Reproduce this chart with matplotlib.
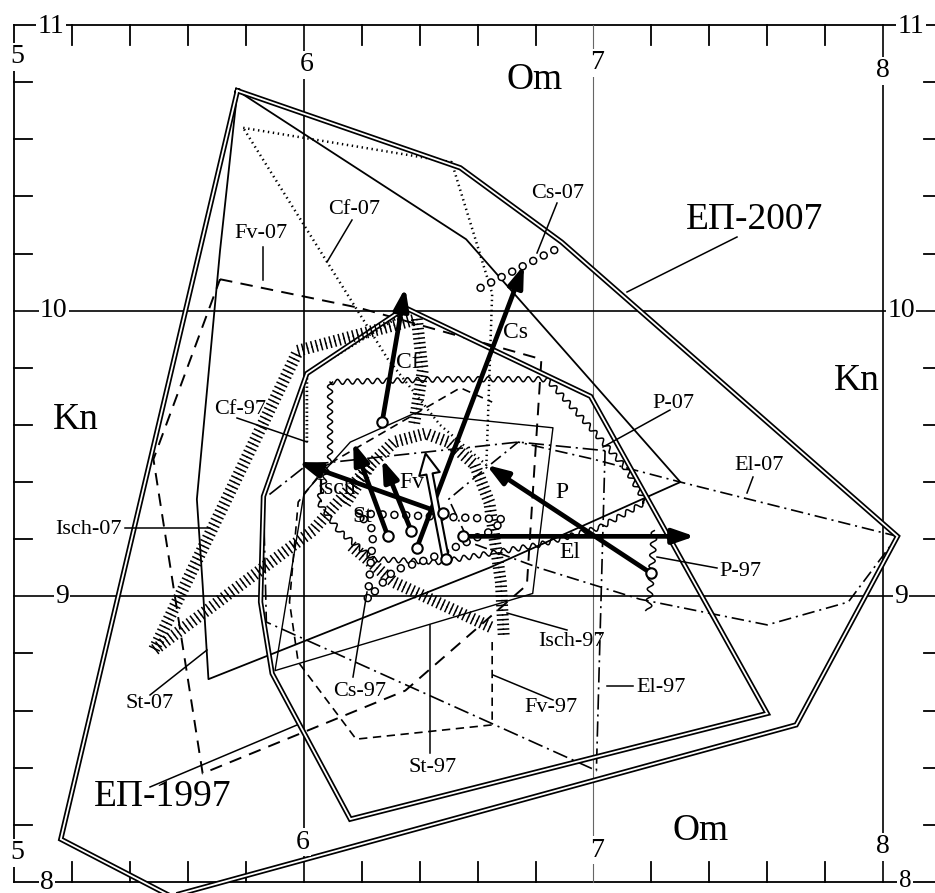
import numpy as np
import matplotlib
matplotlib.use("Agg")
import matplotlib.pyplot as plt
import matplotlib.patheffects as pe
from matplotlib.patches import FancyArrowPatch
from matplotlib.transforms import Affine2D

plt.rcParams['font.family'] = ['Liberation Serif', 'DejaVu Serif']
plt.rcParams['lines.scale_dashes'] = False

# ---------------- data (Om, Kn) ----------------
EP2007_OM = [5.77, 6.54, 6.89, 8.05, 7.70, 5.54, 5.16]
EP2007_KN = [10.77, 10.50, 10.24, 9.21, 8.55, 7.95, 8.15]

EP1997_OM = [6.35, 6.99, 7.60, 6.16, 5.89, 5.85, 5.86, 6.01]
EP1997_KN = [10.01, 9.70, 8.59, 8.22, 8.73, 8.98, 9.35, 9.78]

ST07_OM = [5.77, 6.56, 7.30, 6.64, 5.67, 5.65, 5.63, 5.71]
ST07_KN = [10.77, 10.25, 9.40, 9.10, 8.71, 9.04, 9.34, 10.21]

CF07_OM = [5.79, 6.51, 6.65, 6.63, 6.47, 6.29]
CF07_KN = [10.64, 10.52, 10.06, 9.46, 9.60, 9.83]

FV07_OM = [5.71, 6.19, 6.82, 6.77, 6.35, 5.65, 5.48]
FV07_KN = [10.11, 10.01, 9.83, 9.04, 8.67, 8.38, 9.48]

EL07_OM = [8.05, 7.30, 7.00, 6.74, 6.63, 6.50, 6.57, 6.81, 7.16, 7.60, 7.88]
EL07_KN = [9.21, 9.40, 9.48, 9.54, 9.45, 9.34, 9.19, 9.10, 8.99, 8.90, 8.98]

EL97_OM = [7.04, 7.01, 5.87, 5.86, 6.01, 6.74]
EL97_KN = [9.51, 8.39, 8.91, 9.34, 9.46, 9.54]

ST97_OM = [6.38, 6.86, 6.79, 5.90, 6.00, 6.16]
ST97_KN = [9.64, 9.59, 9.01, 8.74, 9.36, 9.54]

FV97_OM = [6.65, 6.65, 6.18, 5.98, 5.95, 5.98, 6.08, 6.54, 6.65]
FV97_KN = [8.84, 8.55, 8.50, 8.77, 8.98, 9.33, 9.46, 9.73, 9.68]

CF97_OM = [6.01, 6.01, 6.33]
CF97_KN = [9.54, 9.78, 9.98]

ISCH07A_OM = [5.48, 5.98, 6.39, 6.41, 6.38]
ISCH07A_KN = [8.81, 9.86, 9.97, 9.79, 9.60]
ISCH07B_OM = [5.48, 6.03, 6.23]
ISCH07B_KN = [8.81, 9.23, 9.46]

ISCH97A_OM = [6.14, 6.23, 6.31, 6.42, 6.50, 6.59, 6.64, 6.66, 6.68, 6.69]
ISCH97A_KN = [9.32, 9.46, 9.54, 9.57, 9.54, 9.46, 9.33, 9.19, 9.05, 8.86]
ISCH97B_OM = [6.16, 6.31, 6.65]
ISCH97B_KN = [9.18, 9.05, 8.89]

CS07_OM = [6.61, 6.88]
CS07_KN = [10.08, 10.22]
CS97_OM = [6.19, 6.69, 6.65, 6.43, 6.31, 6.22, 6.24]
CS97_KN = [9.29, 9.27, 9.23, 9.13, 9.09, 8.99, 9.23]

P07_OM = [6.09, 6.50, 6.84, 6.99, 7.11, 7.18, 7.02, 6.81, 6.47, 6.24, 6.12, 6.05, 6.09]
P07_KN = [9.75, 9.76, 9.76, 9.59, 9.45, 9.33, 9.24, 9.18, 9.12, 9.13, 9.23, 9.33, 9.48]
P97_OM = [7.21, 7.20, 7.19]
P97_KN = [9.23, 9.08, 8.95]

# shift arrows 1997 -> 2007
ARROW_NAMES = ['Cf', 'Cs', 'Isch', 'St', 'Fv', 'P', 'El']
ARROW_OM0 = [6.27, 6.39, 6.48, 6.29, 6.37, 7.20, 6.55]
ARROW_KN0 = [9.61, 9.17, 9.29, 9.21, 9.23, 9.08, 9.21]
ARROW_OM1 = [6.35, 6.76, 5.98, 6.17, 6.27, 6.63, 7.35]
ARROW_KN1 = [10.08, 10.16, 9.47, 9.54, 9.48, 9.46, 9.21]
HOLLOW_OM = [6.49, 6.42]
HOLLOW_KN = [9.13, 9.50]

X_TICKS = [5, 6, 7, 8]
Y_TICKS = [8, 9, 10, 11]

# ---------------- figure ----------------
W, H = 935, 893
fig = plt.figure(figsize=(W / 100, H / 100), dpi=100)
ax = fig.add_axes([0, 0, 1, 1])
ax.set_xlim(4.950, 8.1796)
ax.set_ylim(7.9615, 11.0875)
ax.axis('off')
PIX = Affine2D().scale(1 / W, -1 / H).translate(0, 1) + fig.transFigure

K = 'black'

# frame and grid
ax.plot([5, 5], [8, 11], color=K, lw=1.3)
for yv in [8, 11]:
    ax.plot([5, 8.18], [yv, yv], color=K, lw=1.3)
for xv in [6, 8]:
    ax.plot([xv, xv], [8, 11], color=K, lw=1.2)
ax.plot([7, 7], [8, 11], color='#666666', lw=0.8)
for yv in [9, 10]:
    ax.plot([5, 8.18], [yv, yv], color=K, lw=1.2)

minor_x = [v for v in np.arange(5.2, 8.0, 0.2) if abs(v - round(v)) > 0.05]
minor_y = [v for v in np.arange(8.2, 11.0, 0.2) if abs(v - round(v)) > 0.05]
for xv in minor_x:
    ax.plot([xv, xv], [11, 10.93], color=K, lw=1.3)
    ax.plot([xv, xv], [8, 8.07], color=K, lw=1.3)
for yv in minor_y:
    ax.plot([5, 5.062], [yv, yv], color=K, lw=1.3)
    ax.plot([8.143, 8.18], [yv, yv], color=K, lw=1.3)

tb = dict(facecolor='white', edgecolor='none', pad=1.0)
tick_fs = 20
# numeric labels
for s, x, y in [('5', 5.009, 10.888), ('6', 6.010, 10.860), ('7', 7.012, 10.867), ('8', 8.0, 10.839),
                ('5', 5.009, 8.102), ('6', 5.997, 8.140), ('7', 7.012, 8.112), ('8', 7.998, 8.123)]:
    ax.text(x, y, s, fontsize=tick_fs, ha='center', va='center', bbox=tb, zorder=10)
for s, x, y in [('11', 5.126, 10.993), ('10', 5.136, 10.0), ('9', 5.164, 9.0), ('8', 5.112, 8.0),
                ('11', 8.097, 10.993), ('10', 8.062, 10.0), ('9', 8.062, 9.0)]:
    ax.text(x, y, s, fontsize=tick_fs, ha='center', va='center', bbox=tb, zorder=10)
ax.text(8.076, 8.005, '8', fontsize=18, ha='center', va='center', bbox=tb, zorder=10)


def plain(om, kn, closed=True, **kw):
    om = list(om); kn = list(kn)
    if closed:
        om.append(om[0]); kn.append(kn[0])
    return ax.plot(om, kn, color=K, **kw)[0]


def double(om, kn):
    om = list(om) + [om[0]]
    kn = list(kn) + [kn[0]]
    ax.plot(om, kn, color=K, lw=3.8, solid_joinstyle='miter', zorder=3)
    ax.plot(om, kn, color='white', lw=1.3, solid_joinstyle='miter', zorder=3.1)


def hatched(om, kn):
    fx = [pe.TickedStroke(angle=90, spacing=3.4, length=1.1, linewidth=1.1),
          pe.TickedStroke(angle=-90, spacing=3.4, length=1.1, linewidth=1.1)]
    ax.plot(om, kn, color=K, lw=1, path_effects=fx, zorder=4)


def rings(om, kn, closed=False):
    om = list(om); kn = list(kn)
    if closed:
        om.append(om[0]); kn.append(kn[0])
    ax.plot(om, kn, color=K, lw=6.2, dashes=(0.01, 8.5), dash_capstyle='round', zorder=4)
    ax.plot(om, kn, color='white', lw=4.0, dashes=(0.01, 8.5), dash_capstyle='round', zorder=4.1)


def wavy(om, kn, closed=True, amp=2.6, wl=10):
    ln = plain(om, kn, closed=closed, lw=1.1, zorder=3)
    ln.set_sketch_params(scale=amp, length=wl, randomness=1.0)


# polygons
double(EP2007_OM, EP2007_KN)
double(EP1997_OM, EP1997_KN)
plain(ST07_OM, ST07_KN, lw=1.3, zorder=2)
plain(ST97_OM, ST97_KN, lw=1.0, zorder=2)
plain(CF07_OM, CF07_KN, lw=1.8, dashes=(1.0, 2.6), zorder=2)
plain(CF97_OM, CF97_KN, closed=False, lw=2.0, dashes=(1.0, 2.0), zorder=2)
plain(FV07_OM, FV07_KN, lw=1.4, dashes=(9, 6), zorder=2)
plain(FV97_OM, FV97_KN, closed=False, lw=1.2, dashes=(6, 4), zorder=2)
plain(EL07_OM, EL07_KN, lw=1.2, dashes=(9, 3.5, 1.5, 3.5), zorder=2)
plain(EL97_OM, EL97_KN, lw=1.2, dashes=(11, 3.5, 1.5, 3.5), zorder=2)

hatched(ISCH07A_OM, ISCH07A_KN)
hatched(ISCH07B_OM, ISCH07B_KN)
hatched(ISCH97A_OM, ISCH97A_KN)
hatched(ISCH97B_OM, ISCH97B_KN)

rings(CS07_OM, CS07_KN)
rings(CS97_OM, CS97_KN, closed=True)

wavy(P07_OM, P07_KN)
wavy(P97_OM, P97_KN, closed=False, amp=3.0, wl=11)

# arrows
for x0, y0, x1, y1 in zip(ARROW_OM0, ARROW_KN0, ARROW_OM1, ARROW_KN1):
    ax.annotate('', xy=(x1, y1), xytext=(x0, y0),
                arrowprops=dict(arrowstyle='-|>,head_length=1.3,head_width=0.45', lw=3.4,
                                color=K, shrinkA=0, shrinkB=0, mutation_scale=10),
                zorder=7)
ha = FancyArrowPatch((HOLLOW_OM[0], HOLLOW_KN[0]), (HOLLOW_OM[1], HOLLOW_KN[1]),
                     arrowstyle='simple,head_length=1.5,head_width=1.5,tail_width=0.45',
                     mutation_scale=10, facecolor='white', edgecolor=K, lw=1.5,
                     shrinkA=0, shrinkB=0, zorder=7)
ax.add_patch(ha)
ax.plot(ARROW_OM0 + HOLLOW_OM[:1], ARROW_KN0 + HOLLOW_KN[:1], 'o', ms=7.5, mfc='white',
        mec=K, mew=1.5, zorder=8, ls='none')

# ---------------- text (reference pixel layout) ----------------
big = [('Om', 535, 80), ('Om', 701, 831), ('Kn', 76, 420), ('Kn', 857, 381),
       ('ЕП-2007', 755, 220), ('ЕП-1997', 163, 797)]
for s, px, py in big:
    ax.text(px, py, s, transform=PIX, fontsize=27, ha='center', va='center', zorder=9)

small = [('Fv-07', 261, 233), ('Cf-07', 354, 210), ('Cs-07', 558, 193), ('P-07', 673, 403),
         ('El-07', 759, 465), ('P-97', 740, 572), ('Isch-07', 88, 530), ('Cf-97', 240, 410),
         ('Isch-97', 571, 641), ('Fv-97', 551, 708), ('El-97', 661, 688), ('Cs-97', 360, 691),
         ('St-97', 433, 767), ('St-07', 150, 703)]
for s, px, py in small:
    ax.text(px, py, s, transform=PIX, fontsize=16, ha='center', va='center', zorder=9)

inner = [('Cs', 515, 333), ('Cf', 408, 362), ('Fv', 412, 482), ('Isch', 336, 488),
         ('St', 362, 517), ('P', 562, 493), ('El', 570, 552)]
for s, px, py in inner:
    ax.text(px, py, s, transform=PIX, fontsize=17, ha='center', va='center', zorder=9)

leaders = [((737, 237), (627, 292)), ((150, 787), (297, 725)), ((263, 247), (263, 280)),
           ((352, 220), (327, 262)), ((557, 203), (537, 253)), ((670, 410), (603, 447)),
           ((753, 477), (747, 493)), ((717, 568), (657, 557)), ((125, 528), (210, 528)),
           ((237, 418), (307, 442)), ((567, 630), (507, 613)), ((553, 700), (493, 675)),
           ((633, 686), (607, 686)), ((353, 677), (367, 592)), ((430, 753), (430, 625)),
           ((150, 695), (207, 650))]
for (a, b), (c, d) in leaders:
    ax.plot([a, c], [b, d], transform=PIX, color=K, lw=1.1, zorder=5)

fig.savefig('out.png', dpi=100)
